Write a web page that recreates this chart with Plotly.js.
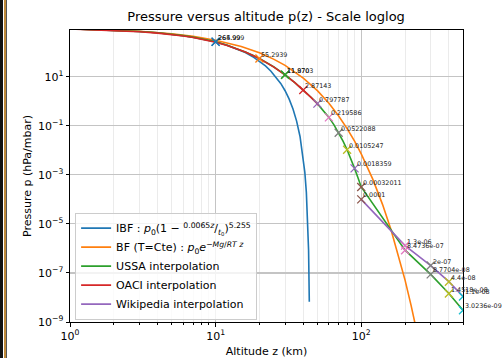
<!DOCTYPE html>
<html>
<head>
<meta charset="utf-8">
<script src="https://cdn.plot.ly/plotly-3.0.1.min.js"></script>
<style>
html,body{margin:0;padding:0;background:#fff;}
#chart{width:503px;height:358px;}
.stripe{position:absolute;top:0;height:358px;}
</style>
</head>
<body>
<div id="chart"></div>
<div class="stripe" style="left:0;width:3px;background:#111;"></div>
<div class="stripe" style="left:4px;width:2px;background:#c08a3a;"></div>
<div class="stripe" style="left:6px;width:1px;background:#555;"></div>
<script>
// IBF : barometric formula (troposphere)
const ibfZ = [1,2,3,4,5,6,7,8,9,10,12,14,16,18,20,22,24,26,28,30,32,34,36,38,40,41,42,43,43.5,44];
const ibfP = [898.76,794.93,701.10,616.44,540.24,471.88,410.67,356.04,307.48,264.43,192.87,137.88,96.34,65.59,43.31,27.59,16.85,9.781,5.330,2.682,1.2174,0.4803,0.15501,0.03661,0.004978,0.0012519,1.918e-4,1.008e-5,8.46e-7,6.66e-9];

// BF (T = constant)
const bfZ = [1,2,3,5,7,10,15,20,25,30,40,50,60,70,80,90,100,120,140,160,180,200,220,240];
const bfP = [899.96,799.33,709.96,560.09,441.82,309.61,171.15,94.61,52.30,28.91,8.834,2.700,0.8243,0.2519,0.07697,0.02352,0.007184,6.71e-4,6.26e-5,5.85e-6,5.46e-7,5.10e-8,4.76e-9,4.45e-10];

// USSA interpolation
const ussaZ = [1,2,3,4,5,6,7,8,9,10,12,14,16,18,20,25,30,35,40,45,50,55,60,65,70,75,80,85,90,95,100,200,300,400,500];
const ussaP = [898.76,795.01,701.21,616.60,540.48,472.17,411.05,356.51,308.00,264.999,193.99,141.70,102.87,75.05,55.2939,25.49,11.970,5.746,2.87143,1.491,0.797787,0.4253,0.219586,0.1093,0.0522088,0.02388,0.0105247,0.004457,0.0018359,0.00076,0.00032011,8.4736e-07,8.7704e-08,1.4518e-08,3.0236e-09];

// OACI interpolation
const oaciZ = [1,2,3,4,5,6,7,8,9,10,12,14,16,18,20,25,30,35,40,45,50,51];
const oaciP = [885,778,683,598,523,456,397,344,297,256,189,139,101,73.8,54.75,25.11,11.8703,5.70,2.87143,1.48,0.7978,0.6694];

// Wikipedia interpolation
const wikiZ = [100,200,300,400,500];
const wikiP = [0.0001,1.3e-06,2e-07,4.4e-08,1.1e-08];

// Marked points and their labels
const markZ = [10,10,20,30,30,40,50,60,70,80,90,100,100,200,200,300,300,400,400,500,500];
const markP = [264.999,264.999,55.2939,11.970,11.970,2.87143,0.797787,0.219586,0.0522088,0.0105247,0.0018359,0.00032011,0.0001,8.4736e-07,1.3e-06,8.7704e-08,2e-07,1.4518e-08,4.4e-08,3.0236e-09,1.1e-08];
const markLabel = ['264.999','265.99','55.2939','11.970','11.8703','2.87143','0.797787','0.219586','0.0522088','0.0105247','0.0018359','0.00032011','0.0001','8.4736e-07','1.3e-06','8.7704e-08','2e-07','1.4518e-08','4.4e-08','3.0236e-09','1.1e-08'];

// Axis ticks
const xTickVals = [1,10,100];
const xTickText = ['10<sup>0</sup>','10<sup>1</sup>','10<sup>2</sup>'];
const yTickVals = [10,0.1,1e-3,1e-5,1e-7,1e-9];
const yTickText = ['10<sup>1</sup>','10<sup>\u22121</sup>','10<sup>\u22123</sup>','10<sup>\u22125</sup>','10<sup>\u22127</sup>','10<sup>\u22129</sup>'];

const C = {blue:'#1f77b4',orange:'#ff7f0e',green:'#2ca02c',red:'#d62728',purple:'#9467bd',brown:'#8c564b',pink:'#e377c2',gray:'#7f7f7f',olive:'#bcbd22',cyan:'#17becf'};
const markColors = [C.blue,C.blue,C.orange,C.green,C.green,C.red,C.purple,C.pink,C.gray,C.olive,C.purple,C.brown,C.brown,C.pink,C.pink,C.gray,C.gray,C.olive,C.olive,C.cyan,C.cyan];

const lw = 1.6;
const traces = [
  {x:ibfZ,y:ibfP,mode:'lines',line:{color:C.blue,width:lw},name:'IBF : <i>p</i><sub>0</sub>(1 \u2212 <sup>0.0065<i>z</i></sup>/<sub><i>t</i><sub>0</sub></sub>)<sup>5.255</sup>'},
  {x:bfZ,y:bfP,mode:'lines',line:{color:C.orange,width:lw},name:'BF (T=Cte) : <i>p</i><sub>0</sub><i>e</i><sup>\u2212<i>Mg</i>/<i>RT</i> <i>z</i></sup>'},
  {x:ussaZ,y:ussaP,mode:'lines',line:{color:C.green,width:lw},name:'USSA interpolation'},
  {x:oaciZ,y:oaciP,mode:'lines',line:{color:C.red,width:lw},name:'OACI interpolation'},
  {x:wikiZ,y:wikiP,mode:'lines',line:{color:C.purple,width:lw},name:'Wikipedia interpolation'},
  {x:markZ,y:markP,mode:'markers',showlegend:false,hoverinfo:'skip',
   marker:{symbol:'x-thin-open',size:8,color:markColors,line:{color:markColors,width:1.3}}}
];

const annotations = markZ.map((z,i)=>({
  x:Math.log10(z), y:Math.log10(markP[i]), xref:'x', yref:'y',
  text:markLabel[i], showarrow:false, xanchor:'left', yanchor:'bottom',
  yshift:-2, font:{family:'DejaVu Sans',size:6.4,color:'#222'}
}));

const layout = {
  width:503, height:358,
  margin:{l:70,r:40,t:30,b:36},
  paper_bgcolor:'#fff', plot_bgcolor:'#fff',
  font:{family:'DejaVu Sans',size:11,color:'#000'},
  title:{text:'Pressure versus altitude p(z) - Scale loglog',font:{size:13,color:'#000'},x:0.529,xanchor:'center',y:0.955,yanchor:'middle'},
  xaxis:{type:'log',range:[0,Math.log10(500)],tickmode:'array',tickvals:xTickVals,ticktext:xTickText,
    ticks:'outside',ticklen:3.5,tickcolor:'#000',showline:true,mirror:true,linecolor:'#000',linewidth:1,
    showgrid:true,gridcolor:'#c4c4c4',gridwidth:1.2,zeroline:false,
    minor:{dtick:'D1',showgrid:true,gridcolor:'#ebebeb',gridwidth:1,ticks:'outside',ticklen:2,tickcolor:'#000'},
    title:{text:'Altitude z (km)',font:{size:11},standoff:6},tickfont:{size:11}},
  yaxis:{type:'log',range:[-9,2.905],tickmode:'array',tickvals:yTickVals,ticktext:yTickText,
    ticks:'outside',ticklen:3.5,tickcolor:'#000',showline:true,mirror:true,linecolor:'#000',linewidth:1,
    showgrid:true,gridcolor:'#c4c4c4',gridwidth:1.2,zeroline:false,
    title:{text:'Pressure p (hPa/mbar)',font:{size:11},standoff:4},tickfont:{size:11}},
  legend:{x:0.013,y:0.008,xanchor:'left',yanchor:'bottom',bgcolor:'rgba(255,255,255,0.8)',bordercolor:'#cccccc',borderwidth:1,
    font:{size:11,family:'DejaVu Sans'},tracegroupgap:0},
  annotations:annotations,
  showlegend:true
};
Plotly.newPlot('chart',traces,layout,{staticPlot:true,displayModeBar:false});
</script>
</body>
</html>
